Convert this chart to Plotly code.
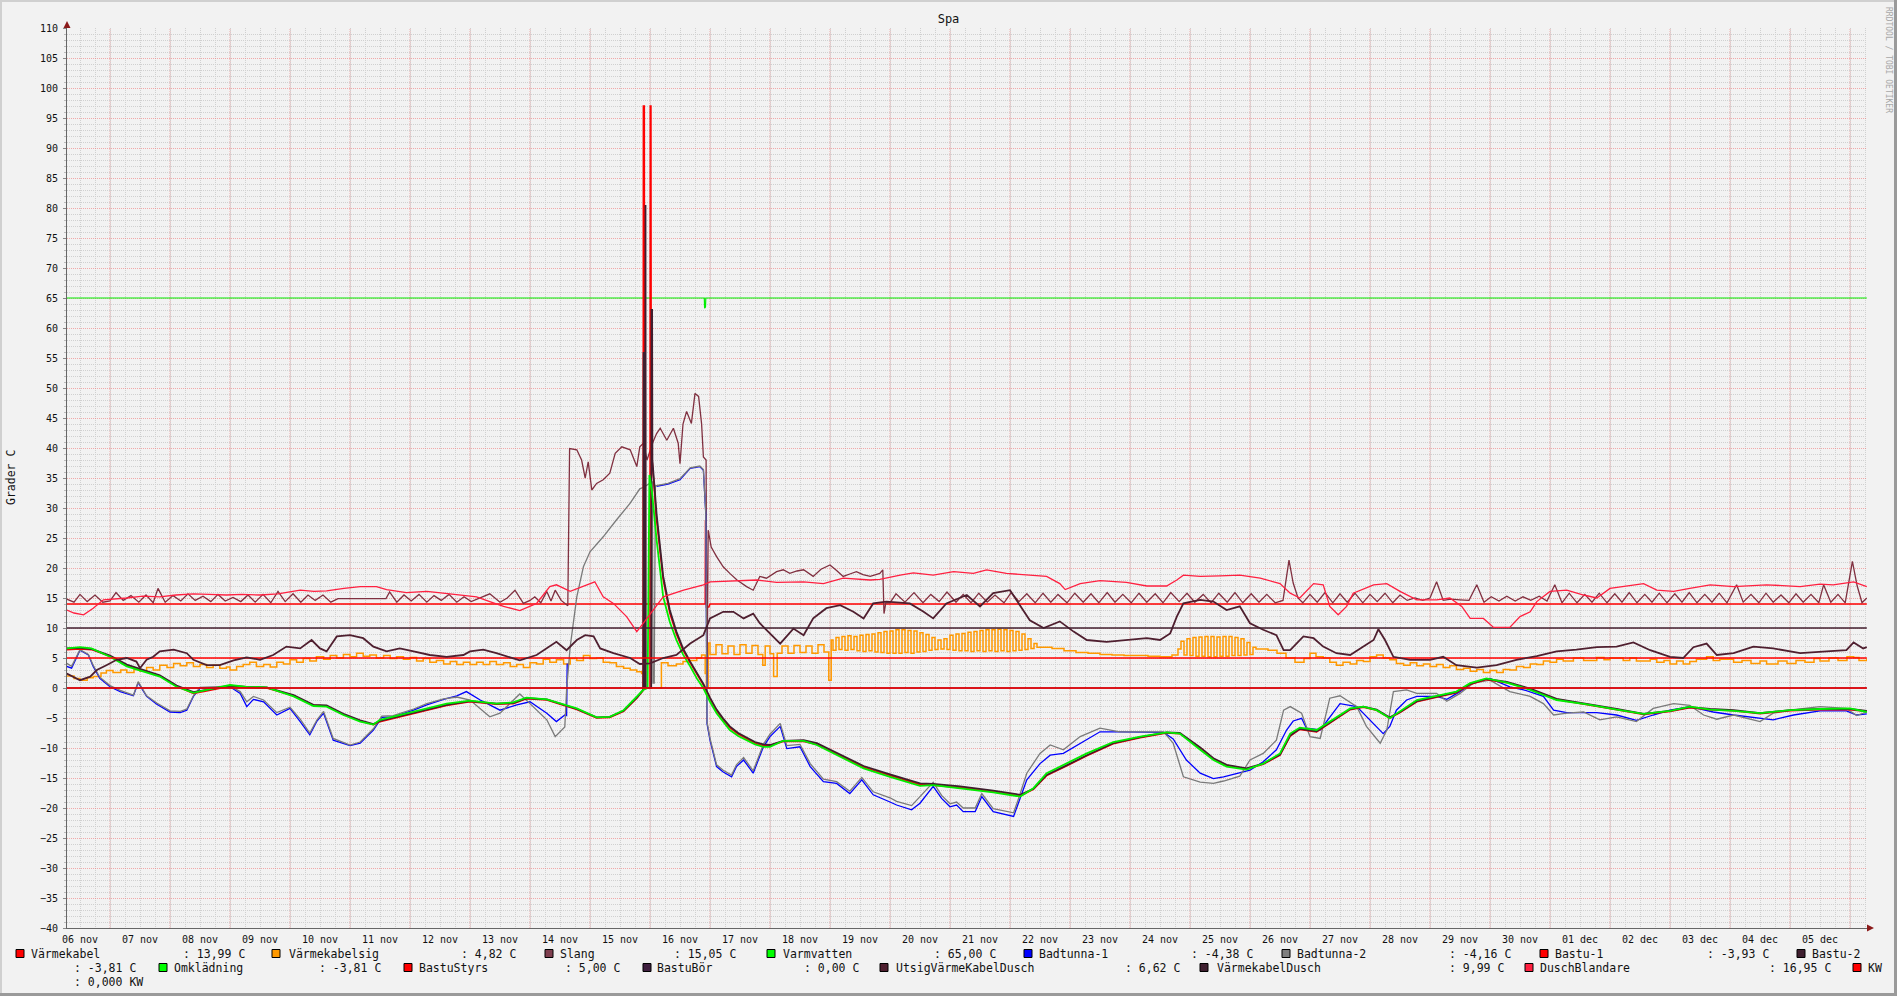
import plotly.graph_objects as go

FONT = "DejaVu Sans Mono"

# ---------------- data (time in days since 06 nov 00:00) ----------------
day_labels = ["06 nov", "07 nov", "08 nov", "09 nov", "10 nov", "11 nov", "12 nov", "13 nov",
              "14 nov", "15 nov", "16 nov", "17 nov", "18 nov", "19 nov", "20 nov", "21 nov",
              "22 nov", "23 nov", "24 nov", "25 nov", "26 nov", "27 nov", "28 nov", "29 nov",
              "30 nov", "01 dec", "02 dec", "03 dec", "04 dec", "05 dec"]
t_start, t_end = 0.2833, 30.2833
y_min, y_max = -40, 110

varmekabel_t = [0.28, 10.92, 10.925, 10.94, 10.98, 11.0, 30.28]
varmekabel_v = [14.0, 14.0, 28.0, 13.5, 13.5, 14.0, 14.0]

vksig_t = [0.28, 0.40, 0.50, 0.62, 0.72, 0.85, 0.94, 1.05, 1.18, 1.28, 1.40, 1.50, 1.61, 1.72, 1.83, 1.95,
           2.06, 2.17, 2.28, 2.39, 2.50, 2.61, 2.72, 2.83, 2.94, 3.00, 3.11, 3.22, 3.33, 3.44, 3.56, 3.67,
           3.78, 3.89, 4.00, 4.11, 4.22, 4.33, 4.44, 4.56, 4.67, 4.78, 4.89, 5.00, 5.11, 5.22, 5.33, 5.44,
           5.56, 5.67, 5.78, 5.89, 6.00, 6.11, 6.22, 6.33, 6.44, 6.56, 6.67, 6.78, 6.89, 7.00, 7.11, 7.22,
           7.33, 7.44, 7.56, 7.67, 7.78, 7.89, 8.00, 8.11, 8.22, 8.33, 8.44, 8.56, 8.67, 8.78, 8.89, 9.00,
           9.11, 9.22, 9.33, 9.44, 9.56, 9.67, 9.78, 9.86, 9.89, 10.19, 10.30, 10.44, 10.55, 10.67, 10.78,
           10.86, 10.92, 10.94, 10.97,
           11.0, 11.1, 11.2, 11.3, 11.4, 11.5, 11.6, 11.7, 11.8, 11.88, 11.92, 12.0, 12.06, 12.12, 12.2,
           12.3, 12.4, 12.5, 12.6, 12.7, 12.8, 12.9, 12.98, 13.02,
           13.05, 13.10, 13.15, 13.20, 13.25, 13.30, 13.35, 13.40, 13.45, 13.50, 13.55, 13.60, 13.65,
           13.70, 13.75, 13.80, 13.85, 13.90, 13.95, 14.00, 14.05, 14.10, 14.15, 14.20, 14.25, 14.30,
           14.35, 14.40, 14.45, 14.50, 14.55, 14.60, 14.65, 14.70, 14.75, 14.80, 14.85, 14.90, 14.95,
           15.00, 15.05, 15.10, 15.15, 15.20, 15.25, 15.30, 15.35, 15.40, 15.45, 15.50, 15.55, 15.60,
           15.65, 15.70, 15.75, 15.80, 15.85, 15.90, 15.95, 16.00, 16.05, 16.10, 16.15, 16.20, 16.25,
           16.30, 16.35, 16.40, 16.45, 16.50, 16.7,
           16.9, 17.1, 17.3, 17.5, 17.7, 17.9, 18.1, 18.3, 18.5, 18.7,
           18.80, 18.85, 18.90, 18.95, 19.00, 19.05, 19.10, 19.15, 19.20, 19.25, 19.30, 19.35, 19.40,
           19.45, 19.50, 19.55, 19.60, 19.65, 19.70, 19.75, 19.80, 19.85, 19.90, 19.95, 20.00, 20.05,
           20.1, 20.3, 20.45, 20.6, 20.75, 20.9, 21.0,
           21.1, 21.22, 21.33, 21.44, 21.55, 21.67, 21.78, 21.89, 22.0, 22.11, 22.22, 22.33, 22.44,
           22.56, 22.67, 22.78, 22.89, 23.0, 23.11, 23.22, 23.33, 23.44, 23.56, 23.67, 23.78, 23.89,
           24.0, 24.11, 24.22, 24.33, 24.44, 24.56, 24.67, 24.78, 24.89, 25.0, 25.11, 25.22, 25.39,
           25.56, 25.78, 25.9, 26.0, 26.22, 26.33, 26.44, 26.67, 26.78, 26.9, 27.0, 27.11, 27.22,
           27.33, 27.44, 27.61, 27.72, 27.83, 28.06, 28.2, 28.35, 28.5, 28.61, 28.8, 28.95, 29.1,
           29.25, 29.4, 29.5, 29.65, 29.8, 29.95, 30.06, 30.15, 30.28]
vksig_v = [2.0, 1.6, 1.3, 1.7, 1.9, 2.5, 2.9, 2.6, 3.0, 2.6, 3.1, 2.8, 3.4, 3.0, 3.8, 3.4,
           4.1, 3.7, 4.2, 3.6, 3.9, 3.4, 3.8, 3.3, 3.5, 3.0, 3.6, 3.9, 4.3, 3.6, 3.9, 3.5,
           4.3, 4.0, 4.7, 4.3, 4.9, 4.5, 5.2, 4.8, 5.4, 5.0, 5.6, 5.2, 5.8, 5.3, 5.5, 5.0,
           5.4, 4.9, 5.2, 4.8, 5.1, 4.5, 4.9, 4.3, 4.6, 4.0, 4.4, 3.9, 4.3, 3.9, 4.3, 3.9,
           4.4, 3.9, 4.2, 3.6, 3.9, 3.4, 4.2, 4.0, 4.8, 4.3, 4.7, 4.0, 4.9, 4.6, 5.4, 4.9,
           5.0, 4.3, 4.2, 3.6, 3.3, 3.0, 2.7, 2.4, 0.0, 4.2, 3.7, 4.0, 4.4, 4.6, 5.0,
           5.5, 2.4, 0.0, 7.5,
           5.6, 7.2, 5.7, 7.0, 5.6, 7.2, 5.8, 7.1, 5.6, 3.8, 7.0, 5.7, 1.9, 5.8, 7.0,
           5.8, 7.1, 5.9, 7.0, 5.8, 7.2, 6.0, 1.3, 8.0,
           6.3, 8.4, 6.4, 8.6, 6.3, 8.7, 6.4, 8.6, 6.2, 8.8, 6.1, 8.9, 6.2,
           9.0, 6.0, 9.2, 5.9, 9.4, 5.8, 9.5, 5.8, 9.7, 5.8, 9.7, 5.9, 9.6,
           5.8, 9.5, 6.0, 9.2, 6.1, 8.9, 6.3, 8.4, 6.4, 8.0, 6.5, 8.2, 6.4,
           8.8, 6.3, 9.0, 6.2, 9.1, 6.2, 9.3, 6.1, 9.4, 6.2, 9.6, 6.1, 9.7,
           6.2, 9.7, 6.1, 9.8, 6.2, 9.7, 6.1, 9.6, 6.2, 9.4, 6.3, 9.0, 6.4,
           8.2, 6.6, 7.4, 6.8, 6.8, 6.6,
           6.2, 5.9, 5.8, 5.6, 5.5, 5.4, 5.4, 5.3, 5.2, 5.5,
           6.5, 7.8, 5.5, 8.2, 5.4, 8.4, 5.3, 8.5, 5.3, 8.6, 5.2, 8.6, 5.2,
           8.5, 5.3, 8.6, 5.3, 8.6, 5.4, 8.4, 5.4, 8.2, 5.5, 7.6, 5.6, 6.8,
           6.5, 6.3, 5.8, 5.0, 4.3, 4.9, 5.8,
           5.2, 5.0, 4.3, 3.8, 4.3, 4.0, 4.6, 4.4, 5.2, 5.5, 5.0, 4.7, 4.1,
           3.8, 4.2, 3.7, 4.0, 3.6, 3.9, 3.4, 3.7, 3.1, 3.3, 2.8, 3.1, 2.6,
           2.9, 2.6, 3.1, 3.0, 3.6, 3.4, 4.0, 3.9, 4.5, 4.3, 4.8, 4.5, 5.0,
           4.6, 5.1, 4.7, 5.0, 4.6, 5.0, 4.5, 4.8, 4.3, 4.6, 4.0, 4.5, 4.0,
           4.4, 4.8, 5.2, 4.6, 4.8, 4.3, 4.6, 4.1, 4.5, 4.0, 4.5, 4.1, 4.6,
           4.3, 4.9, 4.5, 5.0, 4.6, 5.2, 5.1, 4.6, 4.9]

slang_t = [0.28, 0.40, 0.50, 0.62, 0.75, 0.88, 1.00, 1.10, 1.22, 1.35, 1.48, 1.60, 1.72, 1.80, 1.92,
           2.05, 2.18, 2.30, 2.42, 2.55, 2.68, 2.80, 2.92, 3.05, 3.18, 3.30, 3.42, 3.55, 3.68, 3.80,
           3.92, 4.05, 4.18, 4.30, 4.42, 4.55, 4.68, 4.80, 5.60, 5.66, 5.78, 5.90, 6.02, 6.15, 6.28,
           6.40, 6.52, 6.65, 6.78, 6.90, 7.02, 7.15, 7.33, 7.50, 7.62, 7.75, 7.89, 8.00, 8.08, 8.18,
           8.28, 8.35, 8.42, 8.52, 8.63, 8.66, 8.78, 8.86, 8.92, 8.97, 9.03, 9.11, 9.22, 9.33, 9.42,
           9.53, 9.67, 9.78, 9.83, 9.89, 9.95, 10.05, 10.11, 10.17, 10.28, 10.39, 10.47, 10.50, 10.55,
           10.61, 10.69, 10.75, 10.81, 10.86, 10.89, 10.935, 10.94, 10.95, 10.97, 11.02, 11.11, 11.22,
           11.33, 11.45, 11.61, 11.72, 11.83, 11.94, 12.11, 12.22, 12.33, 12.45, 12.56, 12.72, 12.85,
           13.00, 13.11, 13.22, 13.33, 13.44, 13.55, 13.67, 13.83, 13.88, 13.90, 13.93,
           14.00, 14.10, 14.25, 14.40, 14.55, 14.68, 14.82, 14.95, 15.10, 15.22, 15.35, 15.48, 15.62,
           15.75, 15.90, 16.02, 16.15, 16.28, 16.42, 16.55, 16.68, 16.80, 16.95, 17.08, 17.22, 17.35,
           17.48, 17.62, 17.75, 17.88, 18.02, 18.15, 18.28, 18.42, 18.55, 18.68, 18.82, 18.95, 19.08,
           19.22, 19.35, 19.48, 19.62, 19.75, 19.88, 20.02, 20.15, 20.28, 20.42, 20.55, 20.65, 20.72,
           20.80, 20.88, 21.00, 21.12, 21.25, 21.38, 21.50, 21.62, 21.75, 21.88, 22.00, 22.12, 22.25,
           22.38, 22.50, 22.62, 22.75, 22.88, 23.00, 23.11, 23.22, 23.35, 23.50, 23.65, 23.78, 23.90,
           24.02, 24.15, 24.28, 24.42, 24.55, 24.68, 24.82, 24.95, 25.08, 25.20, 25.32, 25.45, 25.58,
           25.70, 25.82, 25.95, 26.08, 26.20, 26.32, 26.45, 26.58, 26.70, 26.82, 26.95, 27.08, 27.20,
           27.32, 27.45, 27.58, 27.70, 27.82, 27.95, 28.11, 28.22, 28.35, 28.48, 28.60, 28.72, 28.85,
           28.98, 29.10, 29.22, 29.35, 29.48, 29.56, 29.68, 29.80, 29.92, 30.04, 30.12, 30.20, 30.28]
slang_v = [14.8, 14.3, 15.6, 14.4, 15.5, 14.3, 14.5, 15.9, 14.6, 15.4, 14.3, 15.5, 14.2, 16.6, 14.3,
           15.4, 14.5, 15.7, 14.6, 15.3, 14.4, 15.6, 14.5, 15.1, 14.4, 15.5, 14.3, 15.6, 14.2, 16.1,
           14.4, 15.7, 14.3, 15.5, 14.6, 15.5, 14.3, 14.9, 14.9, 16.0, 14.3, 15.5, 14.5, 15.6, 14.3,
           15.4, 14.6, 15.6, 14.3, 15.2, 14.4, 15.0, 15.7, 14.3, 15.0, 16.3, 14.1, 14.6, 15.2, 14.2,
           16.1, 14.5, 16.3, 14.6, 13.7, 39.9, 39.7, 38.0, 35.0, 37.7, 33.0, 34.1, 34.7, 35.8, 39.1,
           40.2, 39.7, 36.9, 40.2, 40.8, 38.0, 41.0, 42.4, 43.3, 41.3, 43.3, 40.8, 37.4, 44.0,
           46.1, 44.1, 49.1, 48.6, 44.0, 38.5, 38.0, 0.0, 0.0, 26.3, 23.5, 21.9, 20.2,
           19.1, 18.0, 16.9, 16.3, 18.6, 18.3, 19.4, 19.7, 19.1, 19.5, 19.7, 18.6, 19.8,
           20.5, 19.6, 18.6, 19.0, 19.4, 18.9, 18.6, 19.1, 19.7, 12.4, 14.2,
           14.2, 15.7, 14.3, 15.9, 14.2, 15.6, 14.4, 16.0, 14.3, 15.6, 14.2, 15.8, 14.3,
           15.5, 14.2, 15.9, 14.4, 15.7, 14.2, 15.8, 14.3, 15.6, 14.2, 15.8, 14.3, 15.7,
           14.2, 15.9, 14.3, 15.6, 14.2, 15.8, 14.3, 15.7, 14.2, 15.9, 14.4, 15.8, 14.3,
           15.6, 14.2, 15.8, 14.3, 15.9, 14.2, 15.7, 14.3, 15.6, 14.2, 14.6, 21.3, 17.5,
           15.0, 14.2, 15.6, 14.3, 15.9, 14.2, 15.7, 14.3, 15.8, 14.2, 15.6, 14.4, 15.8,
           14.2, 15.5, 14.6, 15.0, 14.6, 15.0, 17.7, 14.6, 14.8, 14.7, 14.6, 17.2, 14.3,
           15.2, 14.5, 15.3, 14.5, 15.2, 14.6, 15.3, 14.5, 17.2, 14.2, 15.8, 14.2, 15.6,
           14.3, 15.8, 14.2, 15.7, 14.3, 15.9, 14.2, 15.6, 14.3, 15.8, 14.2, 15.7, 14.3,
           15.9, 14.2, 15.6, 14.3, 15.8, 14.2, 17.2, 14.3, 15.6, 14.2, 15.8, 14.3, 15.5,
           14.2, 15.7, 14.3, 15.6, 14.2, 17.2, 14.3, 15.6, 14.2, 21.1, 17.0, 14.2, 15.0]

varmvatten_t = [0.28, 10.905, 10.91, 10.925, 10.93, 30.28]
varmvatten_v = [65.0, 65.0, 63.3, 63.5, 65.0, 65.0]

badtunna1_t = [0.28, 0.36, 0.50, 0.64, 0.72, 0.83, 1.00, 1.17, 1.39, 1.47, 1.61, 1.78, 2.00, 2.17, 2.28,
               2.39, 2.50, 2.72, 3.00, 3.17, 3.28, 3.39, 3.56, 3.78, 4.00, 4.17, 4.33, 4.45, 4.56, 4.72,
               5.00, 5.17, 5.39, 5.53, 5.72, 6.06, 6.28, 6.56, 6.78, 6.94, 7.17, 7.50, 7.78, 8.00, 8.28,
               8.44, 8.58, 8.61, 8.62, 8.67, 8.78, 8.89, 9.00, 9.22, 9.44, 9.67, 9.83, 9.88, 10.11, 10.30,
               10.50, 10.67, 10.83, 10.89, 10.93, 10.95, 11.00, 11.11, 11.22, 11.36, 11.44, 11.56, 11.72,
               11.89, 12.00, 12.17, 12.28, 12.50, 12.67, 12.89, 13.11, 13.33, 13.53, 13.72, 14.00, 14.11,
               14.36, 14.50, 14.72, 14.86, 15.00, 15.11, 15.22, 15.42, 15.53, 15.72, 16.06, 16.14, 16.28,
               16.50, 16.67, 16.89, 17.17, 17.50, 17.83, 18.17, 18.56, 18.72, 18.94, 19.17, 19.39, 19.56,
               19.83, 20.00, 20.22, 20.44, 20.61, 20.72, 20.86, 20.94, 21.17, 21.33, 21.50, 21.78, 22.00,
               22.22, 22.33, 22.44, 22.61, 22.78, 23.11, 23.28, 23.50, 23.72, 24.00, 24.33, 24.56, 24.89,
               25.06, 25.28, 25.56, 25.78, 26.11, 26.44, 26.72, 27.00, 27.33, 27.56, 27.72, 28.06, 28.50,
               28.72, 29.06, 29.50, 29.94, 30.11, 30.28]
# None = hidden behind Badtunna-2 while the tub was heating
badtunna1_v = [3.6, 3.3, 6.3, 5.5, 3.6, 1.6, 0.2, -0.6, -1.3, 0.9, -1.4, -2.7, -4.0, -4.1, -3.7,
               -1.4, -0.05, 0.1, 0.2, -0.9, -3.1, -1.9, -2.3, -4.5, -3.4, -5.6, -7.8, -5.5, -4.2, -8.7,
               -9.6, -9.2, -7.0, -4.9, -4.8, -3.7, -2.8, -1.9, -1.3, -0.6, -2.0, -3.7, -2.8, -2.3, -4.2,
               -5.6, -4.5, -4.6, 4.1, None, None, None, None, None, None, None, None, None, 33.6, 34.0,
               34.7, 36.6, 36.9, 36.3, 29.0, -5.9, -8.7, -13.1, -14.0, -14.8, -13.1, -12.0, -14.2,
               -9.8, -8.1, -6.4, -10.1, -9.8, -13.1, -15.6, -15.9, -17.6, -15.3, -17.8, -19.0, -19.5,
               -20.3, -19.2, -16.4, -18.4, -19.8, -19.5, -20.6, -20.6, -18.1, -20.6, -21.4, -19.2, -15.3,
               -12.6, -11.2, -10.9, -9.2, -7.3, -7.3, -7.4, -7.4, -8.5, -12.0, -14.2, -15.1, -14.8,
               -14.2, -13.7, -12.3, -10.3, -7.0, -5.5, -5.05, -6.7, -7.0, -4.8, -2.6, -3.1, -5.3,
               -7.6, -6.4, -3.7, -2.0, -1.4, -1.4, -1.9, -0.6, 0.9, 1.6, 0.2, -0.3, -1.4,
               -3.7, -4.1, -4.1, -4.1, -4.5, -5.4, -4.5, -3.7, -3.1, -3.7, -4.0, -4.5, -5.05,
               -5.3, -4.5, -3.8, -3.8, -4.5, -4.3]

badtunna2_t = [0.28, 0.36, 0.50, 0.64, 0.72, 0.83, 1.00, 1.17, 1.39, 1.47, 1.61, 1.78, 2.00, 2.17, 2.28,
               2.39, 2.50, 2.72, 3.00, 3.17, 3.28, 3.39, 3.56, 3.78, 4.00, 4.17, 4.33, 4.45, 4.56, 4.72,
               5.00, 5.17, 5.39, 5.53, 5.72, 6.06, 6.28, 6.56, 6.78, 7.00, 7.33, 7.50, 7.83, 8.00, 8.28,
               8.42, 8.58, 8.61, 8.67, 8.78, 8.89, 9.00, 9.22, 9.44, 9.67, 9.83, 9.90, 10.04, 10.05, 10.07,
               10.09, 10.30, 10.50, 10.67, 10.83, 10.89, 10.93, 10.95, 11.00, 11.11, 11.22, 11.36, 11.44,
               11.56, 11.72, 11.89, 12.00, 12.17, 12.28, 12.50, 12.67, 12.89, 13.11, 13.33, 13.53, 13.72,
               14.00, 14.11, 14.36, 14.50, 14.72, 14.86, 15.00, 15.11, 15.22, 15.42, 15.53, 15.72, 16.06,
               16.14, 16.28, 16.50, 16.67, 16.89, 17.17, 17.50, 17.83, 18.17, 18.56, 18.72, 18.89, 19.17,
               19.39, 19.56, 19.83, 20.00, 20.22, 20.44, 20.56, 20.67, 20.86, 21.00, 21.17, 21.33, 21.50,
               21.78, 21.94, 22.17, 22.28, 22.39, 22.61, 22.78, 23.11, 23.28, 23.50, 23.72, 24.00, 24.33,
               24.67, 24.89, 25.06, 25.28, 25.56, 25.83, 26.11, 26.44, 26.72, 27.06, 27.33, 27.56, 27.78,
               28.06, 28.50, 28.72, 29.06, 29.50, 29.94, 30.11, 30.28]
badtunna2_v = [4.1, 3.6, 6.4, 5.6, 3.8, 1.8, 0.4, -0.4, -1.2, 1.05, -1.3, -2.5, -3.8, -3.9, -3.5,
               -1.3, 0.1, 0.2, 0.3, -0.6, -2.3, -1.4, -2.0, -4.1, -3.2, -5.2, -7.5, -5.3, -3.9, -8.4,
               -9.5, -9.0, -6.8, -4.7, -4.6, -3.5, -2.6, -1.8, -1.5, -2.0, -4.8, -4.2, -1.0, -2.6, -5.3,
               -8.1, -6.5, -0.3, 6.9, 15.2, 20.2, 22.7, 25.2, 28.0, 30.8, 33.2, 33.5, 34.4, 0.8, 0.8,
               33.7, 34.1, 34.9, 36.7, 37.0, 36.4, 29.2, -5.6, -8.4, -12.8, -13.7, -14.5, -12.8,
               -11.6, -13.8, -9.4, -7.7, -5.9, -9.6, -9.4, -12.6, -15.2, -15.6, -17.2, -14.9, -17.3,
               -18.3, -18.9, -19.6, -18.1, -15.7, -17.9, -19.3, -19.0, -20.0, -20.0, -17.6, -20.1, -20.8,
               -18.5, -14.2, -10.9, -9.5, -10.3, -8.1, -6.7, -7.3, -7.3, -7.3, -9.2, -14.8, -15.7,
               -15.9, -15.5, -14.7, -12.0, -10.9, -8.7, -3.7, -3.1, -4.2, -8.1, -8.4, -1.7, -1.3,
               -3.1, -6.4, -9.2, -7.0, -0.6, -0.3, -0.9, -0.9, -2.2, -0.9, 0.8, 1.3, -0.6,
               -1.4, -2.6, -4.5, -4.2, -4.0, -5.3, -4.8, -5.6, -3.4, -2.6, -2.9, -4.5, -5.2,
               -4.5, -5.6, -4.2, -3.6, -3.1, -3.4, -4.6, -4.0]

bastu1_t = [0.28, 0.50, 0.69, 1.00, 1.28, 1.61, 1.83, 2.11, 2.39, 2.61, 3.00, 3.28, 3.61, 4.06, 4.39,
            4.61, 4.89, 5.17, 5.39, 5.50, 5.94, 6.28, 6.61, 7.00, 7.44, 7.72, 7.94, 8.28, 8.56, 8.78,
            9.11, 9.33, 9.56, 9.78, 9.88, 9.885, 9.89, 9.905, 9.91, 10.00, 10.005, 10.015, 10.02,
            10.11, 10.22, 10.33, 10.44, 10.55, 10.67, 10.78, 10.89, 11.00, 11.11, 11.22, 11.33, 11.47,
            11.61, 11.75, 11.89, 12.00, 12.22, 12.56, 12.78, 13.11, 13.56, 14.00, 14.50, 14.72, 15.17,
            15.72, 16.17, 16.39, 16.61, 16.94, 17.28, 17.72, 18.17, 18.61, 18.83, 19.17, 19.39, 19.61,
            19.94, 20.22, 20.50, 20.67, 20.83, 21.11, 21.33, 21.67, 21.89, 22.11, 22.33, 22.50, 22.78,
            23.11, 23.44, 23.67, 23.94, 24.28, 24.67, 25.11, 25.67, 26.11, 26.56, 27.00, 27.33, 27.67,
            28.06, 28.50, 29.00, 29.50, 30.00, 30.28]
bastu1_v = [6.4, 6.5, 6.4, 5.3, 3.8, 2.7, 2.0, 0.3, -0.9, -0.5, 0.3, 0.1, 0.0, -1.3, -2.9,
            -3.0, -4.4, -5.5, -6.1, -5.6, -4.5, -3.7, -2.9, -2.3, -2.7, -2.6, -1.8, -2.0, -2.9, -3.6,
            -5.0, -4.9, -3.9, -1.7, -0.5, 0.0, 97.0, 97.0, 0.0, 0.0, 97.0, 97.0, 40.0,
            28.0, 18.0, 12.5, 9.0, 6.3, 4.2, 2.3, 0.5, -1.8, -3.8, -5.3, -6.6, -7.7,
            -8.5, -9.2, -9.6, -9.6, -8.9, -8.9, -9.4, -11.0, -13.2, -14.6, -16.1, -16.2, -16.6,
            -17.3, -18.0, -16.9, -14.6, -13.0, -11.3, -9.3, -8.3, -7.5, -7.6, -10.0, -11.8, -12.9,
            -13.5, -12.7, -11.2, -8.0, -6.9, -7.3, -5.9, -3.6, -3.2, -3.7, -5.0, -4.1, -2.3,
            -1.5, -0.8, 0.6, 1.4, 0.9, -0.2, -1.9, -2.8, -3.6, -4.4, -3.9, -3.3, -3.6,
            -3.8, -4.3, -3.8, -3.6, -3.6, -3.9]

bastu2_t = [0.28, 0.50, 0.69, 1.00, 1.28, 1.61, 1.83, 2.11, 2.39, 2.61, 3.00, 3.28, 3.61, 4.06, 4.39,
            4.61, 4.89, 5.17, 5.39, 5.50, 5.94, 6.28, 6.61, 7.00, 7.44, 7.72, 7.94, 8.28, 8.56, 8.78,
            9.11, 9.33, 9.56, 9.78, 9.88, 9.888, 9.893, 9.898, 9.912, 9.915, 9.925, 9.93, 10.02,
            10.025, 10.035, 10.04, 10.11, 10.22, 10.33, 10.44, 10.55, 10.67, 10.78, 10.89, 11.00,
            11.11, 11.22, 11.33, 11.47, 11.61, 11.75, 11.89, 12.00, 12.22, 12.56, 12.78, 13.11, 13.56,
            14.00, 14.50, 14.72, 15.17, 15.72, 16.17, 16.39, 16.61, 16.94, 17.28, 17.72, 18.17, 18.61,
            18.83, 19.17, 19.39, 19.61, 19.94, 20.22, 20.50, 20.67, 20.83, 21.11, 21.33, 21.67, 21.89,
            22.11, 22.33, 22.50, 22.78, 23.11, 23.44, 23.67, 23.94, 24.28, 24.67, 25.11, 25.67, 26.11,
            26.56, 27.00, 27.33, 27.67, 28.06, 28.50, 29.00, 29.50, 30.00, 30.28]
bastu2_v = [6.6, 6.7, 6.5, 5.4, 3.9, 2.8, 2.1, 0.4, -0.7, -0.3, 0.4, 0.2, 0.1, -1.2, -2.8,
            -2.9, -4.3, -5.4, -6.0, -5.5, -4.4, -3.6, -2.8, -2.2, -2.6, -2.5, -1.7, -1.9, -2.8, -3.5,
            -4.9, -4.8, -3.8, -1.6, -0.4, 0.0, 56.0, 0.0, 0.0, 80.5, 80.5, 0.0, 0.0,
            63.0, 63.0, 38.0, 29.0, 18.6, 13.0, 9.4, 6.6, 4.4, 2.5, 0.7, -1.6,
            -3.6, -5.1, -6.4, -7.5, -8.3, -9.0, -9.4, -9.5, -8.8, -8.7, -9.2, -10.8, -13.0,
            -14.4, -15.9, -16.0, -16.4, -17.1, -17.8, -16.8, -14.5, -12.9, -11.2, -9.2, -8.2, -7.4,
            -7.5, -9.9, -11.7, -12.8, -13.4, -12.6, -11.1, -7.9, -6.8, -7.2, -5.8, -3.5, -3.1,
            -3.6, -4.9, -4.0, -2.2, -1.4, -0.7, 0.7, 1.5, 1.0, -0.1, -1.8, -2.7, -3.5,
            -4.3, -3.8, -3.2, -3.5, -3.7, -4.2, -3.7, -3.5, -3.5, -3.8]

omkladning_t = [0.28, 0.50, 0.69, 1.00, 1.28, 1.61, 1.83, 2.11, 2.39, 2.61, 3.00, 3.28, 3.61, 4.06, 4.39,
                4.61, 4.89, 5.17, 5.39, 5.50, 5.94, 6.28, 6.61, 7.00, 7.44, 7.72, 7.94, 8.28, 8.56, 8.78,
                9.11, 9.33, 9.56, 9.78, 9.89, 9.96, 9.99, 10.03, 10.11, 10.22, 10.33, 10.44, 10.55, 10.67,
                10.78, 10.89, 11.00, 11.11, 11.22, 11.33, 11.47, 11.61, 11.75, 11.89, 12.00, 12.22, 12.56,
                12.78, 13.11, 13.56, 14.00, 14.50, 14.72, 15.17, 15.72, 16.17, 16.39, 16.61, 16.94, 17.28,
                17.72, 18.17, 18.61, 18.83, 19.17, 19.39, 19.61, 19.94, 20.22, 20.50, 20.67, 20.83, 21.11,
                21.33, 21.67, 21.89, 22.11, 22.33, 22.50, 22.78, 23.11, 23.44, 23.67, 23.94, 24.28, 24.67,
                25.11, 25.67, 26.11, 26.56, 27.00, 27.33, 27.67, 28.06, 28.50, 29.00, 29.50, 30.00, 30.28]
omkladning_v = [6.6, 6.8, 6.6, 5.2, 3.6, 2.6, 1.9, 0.2, -0.8, -0.3, 0.5, 0.2, 0.1, -1.4, -3.0,
                -3.1, -4.5, -5.6, -6.1, -5.3, -4.2, -3.4, -2.6, -2.1, -2.6, -2.4, -1.6, -1.9, -2.8, -3.4,
                -4.9, -4.8, -3.7, -1.4, -0.3, 0.0, 35.5, 33.0, 24.7, 15.2, 11.0, 8.0, 5.6, 3.6,
                1.6, -0.05, -2.3, -4.2, -5.7, -7.0, -8.0, -8.7, -9.4, -9.8, -9.8, -8.8, -8.8,
                -9.5, -11.2, -13.4, -14.8, -16.3, -16.2, -16.7, -17.4, -18.1, -16.7, -14.2, -12.6, -10.9,
                -9.0, -8.1, -7.4, -7.6, -10.3, -12.0, -13.1, -13.6, -12.6, -10.9, -7.6, -6.6, -7.0,
                -5.6, -3.4, -3.1, -3.7, -5.05, -3.9, -2.0, -1.3, -0.6, 0.8, 1.6, 0.9, -0.3,
                -2.0, -2.8, -3.6, -4.3, -3.8, -3.1, -3.6, -3.8, -4.2, -3.7, -3.5, -3.4, -4.0]

bastustyrs_t = [0.28, 30.28]
bastustyrs_v = [5.0, 5.0]
bastubor_t = [0.28, 30.28]
bastubor_v = [0.0, 0.0]

utsig_t = [0.28, 0.50, 0.67, 0.78, 0.94, 1.11, 1.28, 1.44, 1.50, 1.61, 1.72, 1.83, 2.06, 2.28, 2.39,
           2.61, 2.83, 3.06, 3.28, 3.50, 3.72, 3.94, 4.17, 4.36, 4.50, 4.61, 4.78, 5.00, 5.22, 5.39,
           5.61, 5.83, 6.06, 6.33, 6.61, 6.89, 7.00, 7.22, 7.44, 7.83, 8.11, 8.33, 8.44, 8.61, 8.78,
           8.92, 9.06, 9.17, 9.39, 9.67, 9.83, 10.00, 10.22, 10.44, 10.67, 10.89, 11.00, 11.22, 11.39,
           11.56, 11.72, 11.83, 11.94, 12.17, 12.39, 12.56, 12.72, 12.94, 13.17, 13.39, 13.56, 13.72,
           13.94, 14.33, 14.56, 14.72, 14.94, 15.28, 15.50, 15.72, 16.00, 16.17, 16.33, 16.56, 16.83,
           17.06, 17.28, 17.61, 17.94, 18.28, 18.50, 18.67, 18.78, 18.89, 19.17, 19.39, 19.61, 19.83,
           20.00, 20.22, 20.44, 20.56, 20.67, 20.89, 21.06, 21.22, 21.44, 21.67, 21.89, 22.06, 22.14,
           22.25, 22.39, 22.67, 23.00, 23.22, 23.44, 23.78, 24.11, 24.44, 24.78, 25.11, 25.44, 25.78,
           26.11, 26.39, 26.67, 27.00, 27.22, 27.39, 27.61, 27.78, 28.06, 28.39, 28.72, 29.17, 29.61,
           29.94, 30.06, 30.22, 30.28]
utsig_v = [2.4, 1.3, 1.9, 3.0, 3.8, 4.7, 5.0, 4.4, 3.3, 4.7, 5.2, 6.1, 6.4, 5.8, 4.7,
           3.8, 3.8, 4.6, 5.1, 4.7, 5.5, 6.9, 6.6, 8.0, 6.6, 6.1, 8.6, 8.8, 8.3, 6.9,
           6.1, 6.6, 6.1, 5.5, 5.2, 5.5, 6.1, 6.4, 5.8, 4.6, 5.5, 7.0, 7.7, 6.3, 8.0,
           8.8, 8.6, 6.6, 5.8, 5.0, 4.0, 4.1, 5.0, 5.5, 7.4, 8.8, 11.6, 12.7, 12.7,
           11.6, 12.4, 10.8, 9.7, 7.4, 9.9, 8.8, 11.6, 13.3, 13.8, 12.7, 11.6, 14.1,
           14.4, 14.1, 12.7, 11.6, 14.1, 15.5, 13.6, 15.8, 16.3, 13.8, 11.3, 10.0, 11.1,
           9.4, 8.0, 7.7, 8.0, 8.3, 8.0, 9.1, 11.9, 14.1, 14.7, 14.4, 13.0, 13.6,
           10.8, 9.7, 8.8, 6.3, 6.3, 8.6, 8.3, 6.9, 5.8, 5.5, 6.9, 8.0, 9.8,
           8.0, 5.2, 4.7, 4.7, 5.2, 3.8, 3.4, 3.8, 4.7, 5.3, 6.1, 6.4, 6.8,
           6.9, 7.6, 6.3, 5.2, 5.0, 6.8, 7.4, 5.5, 5.8, 6.9, 6.6, 5.8, 6.1,
           6.3, 7.6, 6.6, 6.8]

vkdusch_t = [0.28, 30.28]
vkdusch_v = [10.0, 10.0]

dusch_t = [0.28, 0.40, 0.56, 0.72, 0.89, 1.05, 1.28, 1.55, 1.83, 2.10, 2.39, 2.65, 2.94, 3.20, 3.50,
           3.80, 4.17, 4.40, 4.61, 4.90, 5.17, 5.44, 5.61, 5.94, 6.28, 6.55, 6.83, 7.11, 7.33, 7.56,
           7.83, 8.11, 8.33, 8.44, 8.67, 8.89, 9.08, 9.22, 9.39, 9.61, 9.78, 9.89, 10.06, 10.22, 10.56,
           10.89, 11.00, 11.44, 11.78, 12.11, 12.56, 12.89, 13.22, 13.67, 13.83, 14.17, 14.39, 14.72,
           15.06, 15.39, 15.61, 15.94, 16.28, 16.61, 16.83, 16.92, 17.17, 17.50, 17.94, 18.28, 18.61,
           18.78, 18.89, 19.17, 19.50, 19.83, 20.17, 20.50, 20.67, 20.83, 21.06, 21.22, 21.33, 21.47,
           21.61, 21.72, 22.06, 22.28, 22.50, 22.78, 23.11, 23.33, 23.53, 23.67, 23.89, 24.06, 24.33,
           24.50, 24.67, 24.78, 25.00, 25.28, 25.56, 25.78, 26.00, 26.39, 26.56, 26.78, 27.06, 27.33,
           27.67, 28.06, 28.61, 29.17, 29.50, 29.72, 30.06, 30.28]
dusch_v = [13.0, 12.5, 12.2, 13.3, 14.7, 14.8, 15.0, 15.3, 15.2, 15.5, 15.7, 15.6, 15.5, 15.6, 15.5,
           15.7, 16.3, 16.1, 16.2, 16.6, 16.9, 16.9, 16.4, 15.9, 16.1, 15.8, 15.5, 15.2, 14.4, 13.6,
           12.9, 14.1, 16.9, 17.2, 16.1, 16.9, 17.7, 15.2, 14.1, 11.9, 9.4, 10.8, 13.0, 15.2, 16.3,
           17.2, 17.7, 17.9, 18.0, 17.6, 17.7, 17.4, 18.3, 18.0, 18.1, 18.8, 19.2, 18.8,
           19.4, 19.1, 19.7, 19.1, 18.8, 18.6, 17.4, 16.4, 17.4, 17.9, 17.6, 17.0, 17.0,
           18.0, 18.8, 18.6, 18.7, 18.8, 18.3, 17.4, 15.8, 15.0, 17.4, 17.2, 13.6, 12.2,
           13.6, 15.8, 17.2, 17.4, 16.1, 14.7, 14.7, 15.0, 13.6, 11.6, 11.6, 10.1, 10.1,
           11.9, 12.7, 14.4, 16.1, 16.3, 15.5, 15.0, 16.6, 17.2, 17.4, 16.3, 16.1, 16.6,
           17.2, 16.9, 17.2, 16.9, 17.3, 17.2, 17.7, 16.9]

kw_t = [0.28, 30.28]
kw_v = [0.0, 0.0]

# legend texts (name, last value)
legend_names = ["Värmekabel", "Värmekabelsig", "Slang", "Varmvatten", "Badtunna-1", "Badtunna-2",
                "Bastu-1", "Bastu-2", "Omklädning", "BastuStyrs", "BastuBör", "UtsigVärmeKabelDusch",
                "VärmekabelDusch", "DuschBlandare", "KW"]
legend_values = [": 13,99 C", ": 4,82 C", ": 15,05 C", ": 65,00 C", ": -4,38 C", ": -4,16 C",
                 ": -3,93 C", ": -3,81 C", ": -3,81 C", ": 5,00 C", ": 0,00 C", ": 6,62 C",
                 ": 9,99 C", ": 16,95 C", ": 0,000 KW"]

# ---------------- styles ----------------
series = [
    (varmekabel_t, varmekabel_v, "#FF0000", 1.5, "linear"),
    (vksig_t, vksig_v, "#FF9900", 1.5, "hv"),
    (slang_t, slang_v, "#803040", 1.3, "linear"),
    (varmvatten_t, varmvatten_v, "#00EE00", 1.2, "linear"),
    (badtunna1_t, badtunna1_v, "#0000FF", 1.3, "linear"),
    (badtunna2_t, badtunna2_v, "#7A7A7A", 1.3, "linear"),
    (bastu1_t, bastu1_v, "#FF0000", 1.6, "linear"),
    (bastu2_t, bastu2_v, "#3F1F2F", 1.8, "linear"),
    (omkladning_t, omkladning_v, "#00EE00", 1.8, "linear"),
    (bastustyrs_t, bastustyrs_v, "#FF0000", 1.5, "linear"),
    (bastubor_t, bastubor_v, "#3F1F3F", 1.5, "linear"),
    (utsig_t, utsig_v, "#4F1F2F", 1.8, "linear"),
    (vkdusch_t, vkdusch_v, "#3F1F2F", 1.3, "linear"),
    (dusch_t, dusch_v, "#FF2040", 1.3, "linear"),
    (kw_t, kw_v, "#FF0000", 1.5, "linear"),
]
legend_colors = ["#FF0000", "#FF9900", "#7F3F4F", "#00FF00", "#0000FF", "#7F7F7F", "#FF0000",
                 "#3F1F2F", "#00FF00", "#FF0000", "#3F1F3F", "#4F1F2F", "#3F1F2F", "#FF1F3F", "#FF0000"]
# legend layout: square x, name x, name row, value x, value row (pixels)
legend_pos = [(16, 30, 0, 182, 0), (272, 288, 0, 460, 0), (545, 559, 0, 673, 0), (767, 782, 0, 933, 0),
              (1024, 1038, 0, 1190, 0), (1282, 1296, 0, 1448, 0), (1540, 1554, 0, 1706, 0),
              (1797, 1811, 0, 73, 1), (159, 173, 1, 318, 1), (404, 418, 1, 564, 1), (643, 656, 1, 803, 1),
              (880, 895, 1, 1124, 1), (1200, 1216, 1, 1448, 1), (1525, 1539, 1, 1768, 1),
              (1853, 1867, 1, 73, 2)]
row_y = [953.5, 967.5, 981.5]

W, H = 1897, 996
ML, MR, MT, MB = 67, 30, 28, 68
PW, PH = W - ML - MR, H - MT - MB


def fx(p):
    return (p - ML) / PW


def fy(p):
    return 1 - (p - MT) / PH


fig = go.Figure()
for (t, v, c, w, shp) in series:
    fig.add_trace(go.Scatter(x=t, y=v, mode="lines", line=dict(color=c, width=w, shape=shp),
                             connectgaps=False, hoverinfo="skip", showlegend=False))

shapes = []
# midnight major grid lines (red dotted)
for d in range(1, 31):
    shapes.append(dict(type="line", xref="x", yref="paper", x0=d, x1=d, y0=0, y1=1,
                       line=dict(color="rgba(240,110,110,0.55)", width=1, dash="1px,1px"),
                       layer="between"))
# image frame
shapes += [
    dict(type="rect", xref="paper", yref="paper", x0=fx(0), x1=fx(W), y0=fy(0), y1=fy(2),
         fillcolor="#d0d0d0", line=dict(width=0)),
    dict(type="rect", xref="paper", yref="paper", x0=fx(0), x1=fx(2), y0=fy(0), y1=fy(H),
         fillcolor="#d0d0d0", line=dict(width=0)),
    dict(type="rect", xref="paper", yref="paper", x0=fx(0), x1=fx(W), y0=fy(H - 3), y1=fy(H),
         fillcolor="#9a9a9a", line=dict(width=0)),
    dict(type="rect", xref="paper", yref="paper", x0=fx(W - 3), x1=fx(W), y0=fy(0), y1=fy(H),
         fillcolor="#9a9a9a", line=dict(width=0)),
]
# axis arrows
shapes.append(dict(type="path", xref="paper", yref="paper",
                   path=f"M {fx(63.5)} {fy(28)} L {fx(70.5)} {fy(28)} L {fx(67)} {fy(21)} Z",
                   fillcolor="#8B1A1A", line=dict(width=0)))
shapes.append(dict(type="line", xref="paper", yref="paper", x0=1, x1=fx(1868), y0=0, y1=0,
                   line=dict(color="#666666", width=1)))
shapes.append(dict(type="path", xref="paper", yref="paper",
                   path=f"M {fx(1867)} {fy(924.5)} L {fx(1867)} {fy(931.5)} L {fx(1874)} {fy(928)} Z",
                   fillcolor="#8B1A1A", line=dict(width=0)))

annotations = []
for i, name in enumerate(legend_names):
    sqx, nx, nrow, vx, vrow = legend_pos[i]
    yc = row_y[nrow]
    shapes.append(dict(type="rect", xref="paper", yref="paper", x0=fx(sqx), x1=fx(sqx + 8),
                       y0=fy(yc - 4), y1=fy(yc + 4), fillcolor=legend_colors[i],
                       line=dict(color="#000000", width=1)))
    annotations.append(dict(xref="paper", yref="paper", x=fx(nx - 1), y=fy(yc), text=name,
                            showarrow=False, xanchor="left", yanchor="middle",
                            font=dict(family=FONT, size=11.5, color="#111111")))
    annotations.append(dict(xref="paper", yref="paper", x=fx(vx - 1), y=fy(row_y[vrow]),
                            text=legend_values[i].replace(" ", "&nbsp;"),
                            showarrow=False, xanchor="left", yanchor="middle",
                            font=dict(family=FONT, size=11.5, color="#111111")))

annotations.append(dict(xref="paper", yref="paper", x=fx(11), y=fy(478), text="Grader C",
                        textangle=-90, showarrow=False, xanchor="center", yanchor="middle",
                        font=dict(family=FONT, size=11.5, color="#111111")))
annotations.append(dict(xref="paper", yref="paper", x=fx(1889), y=fy(60), text="RRDTOOL / TOBI OETIKER",
                        textangle=90, showarrow=False, xanchor="center", yanchor="middle",
                        font=dict(family=FONT, size=8, color="#a8a8a8")))

fig.update_layout(
    width=W, height=H, autosize=False,
    margin=dict(l=ML, r=MR, t=MT, b=MB, pad=0),
    paper_bgcolor="#f2f2f2", plot_bgcolor="#f2f2f2",
    title=dict(text="Spa", x=0.5, xref="container", xanchor="center", y=1 - 19 / H, yref="container",
               yanchor="middle", font=dict(family=FONT, size=12, color="#111111")),
    showlegend=False, hovermode=False,
    shapes=shapes, annotations=annotations,
    xaxis=dict(range=[t_start, t_end], tickmode="array",
               tickvals=[i + 0.5 for i in range(len(day_labels))], ticktext=day_labels,
               showgrid=True, gridcolor="#d0d0d0", griddash="1px,1px", gridwidth=1,
               ticks="", showline=True, linecolor="#666666", linewidth=1, zeroline=False,
               tickfont=dict(family=FONT, size=10, color="#111111"), ticklabelstandoff=2,
               minor=dict(dtick=0.25, tick0=0, showgrid=True, gridcolor="#d0d0d0",
                          griddash="1px,1px", gridwidth=1, ticks="")),
    yaxis=dict(range=[y_min, y_max], tickmode="linear", tick0=0, dtick=5,
               showgrid=True, gridcolor="rgba(240,110,110,0.55)", griddash="1px,1px", gridwidth=1,
               ticks="outside", ticklen=3, tickcolor="#888888", showline=True, linecolor="#666666",
               linewidth=1, zeroline=False,
               tickfont=dict(family=FONT, size=10, color="#111111"), ticklabelstandoff=3,
               minor=dict(dtick=1, tick0=0, showgrid=True, gridcolor="#d0d0d0",
                          griddash="1px,1px", gridwidth=1, ticks="outside", ticklen=2,
                          tickcolor="#bbbbbb")),
)

fig.write_html("out.html", config={"displayModeBar": False},
               post_script="document.body.style.margin='0';document.body.style.overflow='hidden';")
